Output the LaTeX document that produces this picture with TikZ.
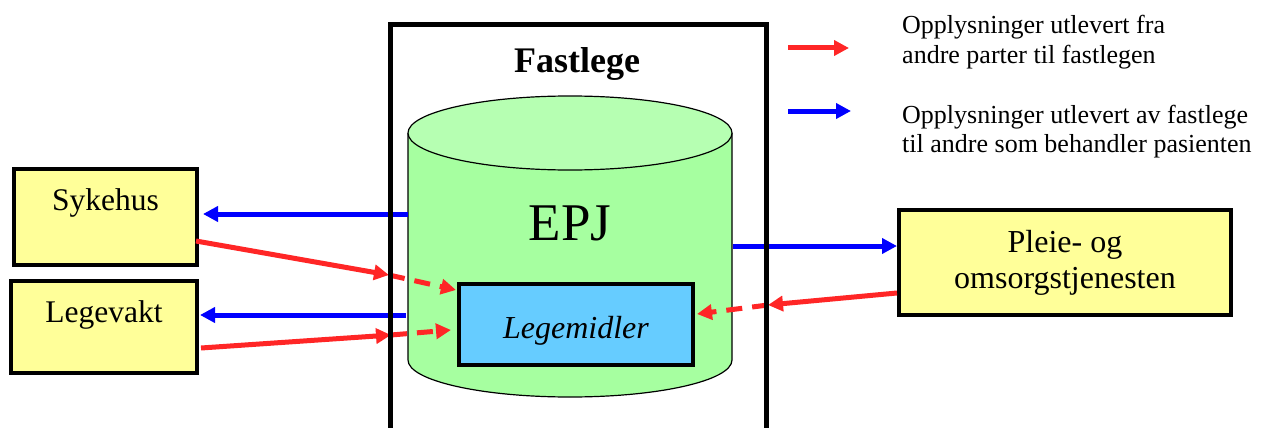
\documentclass[tikz,border=0pt]{standalone}
\usepackage{fontspec}
\setmainfont{Liberation Serif}
\usetikzlibrary{arrows.meta}
\definecolor{boxyellow}{RGB}{255,255,153}
\definecolor{cylbody}{RGB}{166,255,160}
\definecolor{cyltop}{RGB}{182,255,178}
\definecolor{medblue}{RGB}{102,204,255}
\definecolor{arrred}{RGB}{255,38,38}
\definecolor{arrblue}{RGB}{0,0,255}
\tikzset{
  ybox/.style={draw=black, line width=4pt, fill=boxyellow, inner sep=0pt,
    font=\fontsize{31.5}{36}\selectfont},
  redarr/.style={draw=arrred, line width=5pt, -{Triangle[length=15pt,width=15pt]}},
  reddash/.style={redarr, dash pattern=on 16pt off 10pt},
  bluearr/.style={draw=arrblue, line width=5pt, -{Triangle[length=15pt,width=15pt]}},
  legtext/.style={anchor=west, align=left, inner sep=0pt, font=\fontsize{26}{29.5}\selectfont}
}
\begin{document}
\begin{tikzpicture}[x=1pt,y=-1pt]
\useasboundingbox (0,0) rectangle (1263,428);
% cylinder EPJ
\fill[cylbody] (408,133) -- (408,360) arc[start angle=180,end angle=360,x radius=162pt,y radius=37pt] -- (732,133) -- cycle;
\draw[line width=1.2pt] (408,133) -- (408,360) arc[start angle=180,end angle=360,x radius=162pt,y radius=37pt] -- (732,133);
\draw[line width=1.2pt, fill=cyltop] (570,133) ellipse[x radius=162pt, y radius=37pt];
\node[anchor=base, inner sep=0pt, font=\fontsize{53}{60}\selectfont] (epj) at (570,240) {EPJ};
\node[draw=black, line width=4pt, fill=medblue, minimum width=234pt, minimum height=81pt, inner sep=0pt,
  text height=34pt, text depth=7pt, font=\itshape\fontsize{32}{36}\selectfont] (leg) at (576,324.5) {Legemidler};
% outside boxes
\node[ybox, minimum width=183pt, minimum height=96pt, text height=22pt, text depth=36pt] (syk) at (105.5,217) {Sykehus};
\node[ybox, minimum width=186pt, minimum height=92pt, text height=22pt, text depth=32pt] (lv) at (104,327) {Legevakt};
\node[ybox, minimum width=332pt, minimum height=105pt, align=center, font=\fontsize{32}{36}\selectfont] (pl) at (1065,262.5) {Pleie- og\\omsorgstjenesten};
% connector coordinates
\coordinate (c1) at (408,214);
\coordinate (s1) at (203,214);
\coordinate (c2) at (406,315);
\coordinate (s2) at (200,315);
\coordinate (c3) at (733,246);
\coordinate (sr1) at (196,241);
\coordinate (f1) at (389,275);
\coordinate (sr2) at (201,348);
\coordinate (f2) at (391,335);
\coordinate (pr) at (897,293);
\coordinate (f3) at (768,305);
\coordinate (g1) at (456,290);
\coordinate (g2) at (451,330);
\coordinate (g3) at (697,314);
% blue arrows
\draw[bluearr] (c1) -- (s1);
\draw[bluearr] (c2) -- (s2);
\draw[bluearr] (c3) -- (pl.west |- c3);
% red arrows
\draw[redarr] (sr1) -- (f1);
\draw[reddash] (f1) -- (g1);
\draw[redarr] (sr2) -- (f2);
\draw[reddash] (f2) -- (g2);
\draw[redarr] (pr) -- (f3);
\draw[reddash] (f3) -- (g3);
% Fastlege frame
\draw[line width=5pt, line join=miter] (390,440) -- (390,24.5) -- (766,24.5) -- (766,440);
\node[anchor=base, inner sep=0pt, font=\bfseries\fontsize{36}{40}\selectfont] (fl) at (577,73) {Fastlege};
% legend
\coordinate (lr1) at (788,48);
\coordinate (lr2) at (849,48);
\coordinate (lb1) at (788,111);
\coordinate (lb2) at (851,111);
\draw[redarr] (lr1) -- (lr2);
\draw[bluearr] (lb1) -- (lb2);
\node[legtext] (lt1) at (902,42) {Opplysninger utlevert fra\\andre parter til fastlegen};
\node[legtext] (lt2) at (902,131.5) {Opplysninger utlevert av fastlege\\til andre som behandler pasienten};
\end{tikzpicture}
\end{document}
